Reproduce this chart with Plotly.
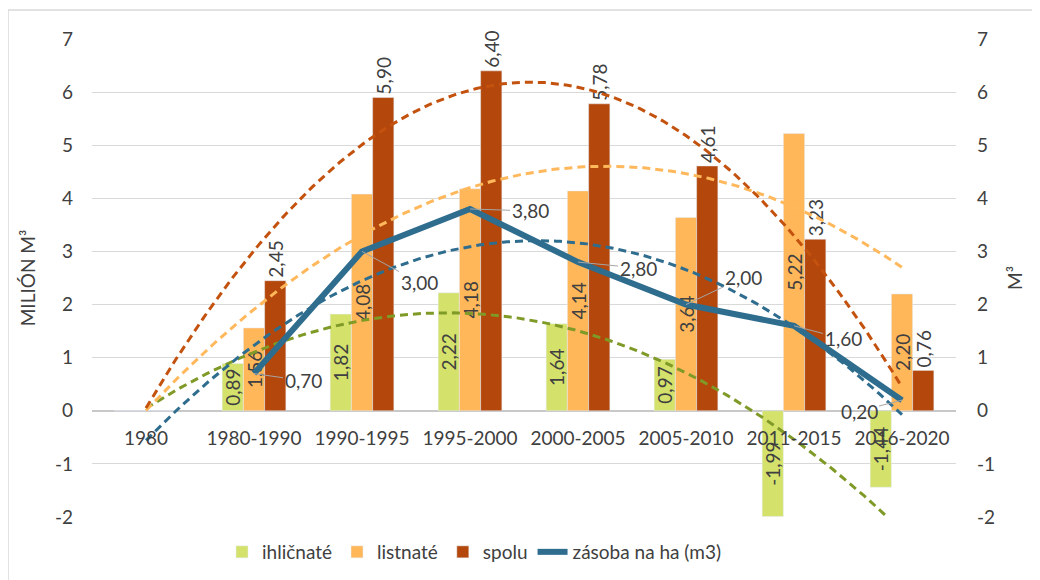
import numpy as np
import plotly.graph_objects as go

# ---------------- data ----------------
categories = ["1980", "1980-1990", "1990-1995", "1995-2000", "2000-2005",
              "2005-2010", "2011-2015", "2016-2020"]
ihlicnate = [0, 0.89, 1.82, 2.22, 1.64, 0.97, -1.99, -1.44]
listnate = [0, 1.56, 4.08, 4.18, 4.14, 3.64, 5.22, 2.20]
spolu = [0, 2.45, 5.90, 6.40, 5.78, 4.61, 3.23, 0.76]
zasoba = [None, 0.70, 3.00, 3.80, 2.80, 2.00, 1.60, 0.20]
y_tick_vals = [-2, -1, 0, 1, 2, 3, 4, 5, 6, 7]
y_tick_text = ["-2", "-1", "0", "1", "2", "3", "4", "5", "6", "7"]

# ---------------- style ----------------
FONT = "Lato"
TXT = "#404040"
C_GREEN, C_ORANGE, C_BROWN, C_BLUE = "#d4e26c", "#ffb75a", "#b4470b", "#2f6d8e"
T_GREEN, T_ORANGE, T_BROWN, T_BLUE = "#7f9a27", "#ffb85c", "#c4520f", "#2f6d8e"
W, H = 1040, 580
OFF = 8  # page offset of the figure
ML, MR, MT, MB = 92 - OFF, 84 + OFF, 39 - OFF, 63 + OFF
PW, PH = W - ML - MR, H - MT - MB
# label offsets (pixels) for the line labels
label_offsets = [None, (49, 7), (57, 31), (60, 2), (60, 6), (57, -27), (49, 13), (-43, 11)]

x = list(range(len(categories)))


def fmt(v):
    return f"{v:.2f}".replace(".", ",")


def trend(xs, ys):
    pts = [(a, b) for a, b in zip(xs, ys) if b is not None]
    px = np.array([p[0] for p in pts], float)
    py = np.array([p[1] for p in pts], float)
    coef = np.polyfit(px, py, 2)
    xx = np.linspace(min(xs), max(xs), 200)
    return xx, np.polyval(coef, xx)


def fy(page_y):
    """page pixel y -> paper fraction"""
    return (MT + PH - (page_y - OFF)) / PH


def fx(page_x):
    return ((page_x - OFF) - ML) / PW


fig = go.Figure()

bar_common = dict(textangle=-90, constraintext="none", cliponaxis=False,
                  textfont=dict(family=FONT, size=19, color=TXT))
fig.add_trace(go.Bar(x=x, y=ihlicnate, name="ihličnaté", marker_color=C_GREEN,
                     text=[fmt(v) if v != 0 else "" for v in ihlicnate],
                     textposition="inside", insidetextanchor="middle", **bar_common))
fig.add_trace(go.Bar(x=x, y=listnate, name="listnaté", marker_color=C_ORANGE,
                     text=[fmt(v) if v != 0 else "" for v in listnate],
                     textposition="inside", insidetextanchor="middle", **bar_common))
fig.add_trace(go.Bar(x=x, y=spolu, name="spolu", marker_color=C_BROWN,
                     text=[fmt(v) if v != 0 else "" for v in spolu],
                     textposition="outside", **bar_common))

# polynomial (order 2) trendlines
for ys, col, ax in [(ihlicnate, T_GREEN, "y"), (listnate, T_ORANGE, "y"),
                    (spolu, T_BROWN, "y"), (zasoba, T_BLUE, "y2")]:
    tx, ty = trend(x, ys)
    fig.add_trace(go.Scatter(x=tx, y=ty, mode="lines", yaxis=ax, showlegend=False,
                             hoverinfo="skip",
                             line=dict(color=col, width=3, dash="8px,5px")))

fig.add_trace(go.Scatter(x=x, y=zasoba, name="zásoba na ha (m3)", mode="lines",
                         yaxis="y2", line=dict(color=C_BLUE, width=6)))

annotations = []
for i, v in enumerate(zasoba):
    if v is None:
        continue
    dx, dy = label_offsets[i]
    annotations.append(dict(x=x[i], y=v, xref="x", yref="y2", text=fmt(v),
                            showarrow=True, arrowhead=0, arrowwidth=1,
                            arrowcolor="#a6a6a6", ax=dx, ay=dy, standoff=0,
                            font=dict(family=FONT, size=19, color=TXT)))

fig.update_layout(
    width=W, height=H,
    margin=dict(l=ML, r=MR, t=MT, b=MB, autoexpand=False),
    paper_bgcolor="white", plot_bgcolor="white",
    font=dict(family=FONT, size=19, color=TXT),
    barmode="group", bargap=0.41, bargroupgap=0,
    showlegend=True,
    legend=dict(orientation="h", x=fx(222), xanchor="left",
                y=fy(552), yanchor="middle",
                font=dict(family=FONT, size=19, color=TXT),
                bgcolor="rgba(0,0,0,0)", traceorder="normal"),
    xaxis=dict(range=[-0.5, 7.5], tickvals=x, ticktext=categories,
               anchor="free", position=2 / 9, showgrid=False, zeroline=False,
               showline=False, ticks="", ticklabelstandoff=14,
               tickfont=dict(family=FONT, size=19, color=TXT)),
    yaxis=dict(range=[-2, 7], tickvals=y_tick_vals, ticktext=y_tick_text,
               showgrid=True, gridcolor="#d9d9d9", gridwidth=1,
               zeroline=True, zerolinecolor="#c8c8c8", zerolinewidth=1.5,
               showline=False, ticks="", ticklabelstandoff=18,
               tickfont=dict(family=FONT, size=19, color=TXT),
               title=dict(text="MILIÓN M³", standoff=14,
                          font=dict(family=FONT, size=19, color=TXT))),
    yaxis2=dict(range=[-2, 7], tickvals=y_tick_vals, ticktext=y_tick_text,
                overlaying="y", side="right", showgrid=False, zeroline=False,
                showline=False, ticks="", ticklabelstandoff=20,
                tickfont=dict(family=FONT, size=19, color=TXT),
                title=dict(text="M³", standoff=14,
                           font=dict(family=FONT, size=19, color=TXT))),
    annotations=annotations,
    shapes=[dict(type="rect", xref="paper", yref="paper",
                 x0=fx(8), x1=fx(1034), y0=fy(600), y1=fy(10),
                 line=dict(color="#d9d9d9", width=1.5), layer="below")],
)

fig.write_html("out.html")
